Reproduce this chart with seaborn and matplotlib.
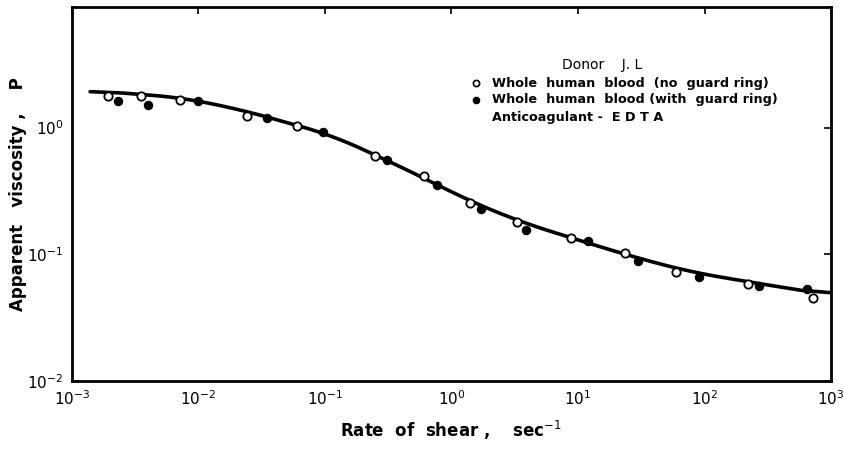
import numpy as np
import pandas as pd
import matplotlib
matplotlib.use("Agg")
import matplotlib.pyplot as plt
import seaborn as sb

### DATA
open_rate = [0.00193, 0.0035, 0.00714, 0.0242, 0.060, 0.248, 0.607, 1.40, 3.30, 8.8, 23.6, 59.6, 221, 721]
open_visc = [1.76, 1.76, 1.66, 1.24, 1.02, 0.60, 0.418, 0.255, 0.181, 0.135, 0.103, 0.0727, 0.0585, 0.0453]

filled_rate = [0.00231, 0.00399, 0.0099, 0.0348, 0.0964, 0.309, 0.767, 1.71, 3.88, 12.0, 29.8, 90.6, 270, 646]
filled_visc = [1.61, 1.52, 1.61, 1.18, 0.93, 0.558, 0.354, 0.229, 0.156, 0.128, 0.0889, 0.0664, 0.0564, 0.0533]

curve_rate = [0.00139, 0.00714, 0.0213, 0.060, 0.110, 0.248, 0.607, 1.17, 3.30, 8.8, 25.8, 76.7, 275, 1000]
curve_visc = [1.96, 1.73, 1.39, 1.04, 0.88, 0.61, 0.40, 0.285, 0.184, 0.135, 0.097, 0.0727, 0.0585, 0.0477]

x_ticks = [1e-3, 1e-2, 1e-1, 1e0, 1e1, 1e2, 1e3]
x_labels = ["10$^{-3}$", "10$^{-2}$", "10$^{-1}$", "10$^{0}$", "10$^{1}$", "10$^{2}$", "10$^{3}$"]
y_ticks = [1e-2, 1e-1, 1e0]
y_labels = ["10$^{-2}$", "10$^{-1}$", "10$^{0}$"]

legend_lines = ["Whole  human  blood  (no  guard ring)",
                "Whole  human  blood (with  guard ring)"]


### PLOT
sb.set_style("white")
plt.rcParams["font.family"] = ["DejaVu Sans"]
plt.rcParams["mathtext.fontset"] = "dejavusans"
plt.rcParams["text.color"] = "black"
plt.rcParams["axes.labelcolor"] = "black"
plt.rcParams["xtick.color"] = "black"
plt.rcParams["ytick.color"] = "black"

fig = plt.figure(figsize=(8.44, 4.49), dpi=100)
ax = fig.add_axes([0.0853, 0.1514, 0.8993, 0.8326])

curve = pd.DataFrame({"rate": curve_rate, "visc": curve_visc})
pts_open = pd.DataFrame({"rate": open_rate, "visc": open_visc})
pts_fill = pd.DataFrame({"rate": filled_rate, "visc": filled_visc})

ax.set_xscale("log")
ax.set_yscale("log")

# smooth the fitted curve in log space
lx = np.log10(curve["rate"])
ly = np.log10(curve["visc"])
fine = np.linspace(lx.min(), lx.max(), 300)
smooth = pd.DataFrame({"rate": 10 ** fine, "visc": 10 ** np.interp(fine, lx, ly)})
smooth["visc"] = 10 ** pd.Series(np.log10(smooth["visc"])).rolling(25, center=True, min_periods=1).mean()
sb.lineplot(data=smooth, x="rate", y="visc", ax=ax, color="black", lw=2.6, sort=False)

sb.scatterplot(data=pts_open, x="rate", y="visc", ax=ax, marker="o", s=36,
               facecolor="white", edgecolor="black", linewidth=1.3, zorder=3)
sb.scatterplot(data=pts_fill, x="rate", y="visc", ax=ax, marker="o", s=36,
               color="black", edgecolor="black", linewidth=0.8, zorder=3)

ax.set_xlim(1e-3, 1e3)
ax.set_ylim(1e-2, 10 ** 0.95)

ax.set_xticks(x_ticks)
ax.set_xticklabels(x_labels, fontsize=11)
ax.set_yticks(y_ticks)
ax.set_yticklabels(y_labels, fontsize=11)
ax.minorticks_off()
ax.tick_params(axis="both", direction="in", length=5, width=1.2, top=True, right=True,
               labeltop=False, labelright=False, pad=6, colors="black")

for sp in ax.spines.values():
    sp.set_visible(True)
    sp.set_color("black")
    sp.set_linewidth(2)

ax.set_xlabel("Rate  of  shear ,    sec$^{-1}$", fontsize=12, fontweight="bold", labelpad=8)
ax.set_ylabel("Apparent   viscosity ,    P", fontsize=12, fontweight="bold", labelpad=0)

# legend block drawn as text
ax.text(0.646, 0.845, "Donor    J. L", transform=ax.transAxes, fontsize=10, va="center")
ax.scatter([0.532], [0.797], transform=ax.transAxes, s=20, marker="o",
           facecolor="white", edgecolor="black", linewidth=1.2, clip_on=False)
ax.scatter([0.532], [0.752], transform=ax.transAxes, s=20, marker="o",
           color="black", clip_on=False)
ax.text(0.553, 0.797, legend_lines[0], transform=ax.transAxes, fontsize=9.2,
        fontweight="bold", va="center")
ax.text(0.553, 0.752, legend_lines[1], transform=ax.transAxes, fontsize=9.2,
        fontweight="bold", va="center")
ax.text(0.553, 0.706, "Anticoagulant -  E D T A", transform=ax.transAxes, fontsize=9.2,
        fontweight="bold", va="center")

plt.savefig("out.png", dpi=100)
